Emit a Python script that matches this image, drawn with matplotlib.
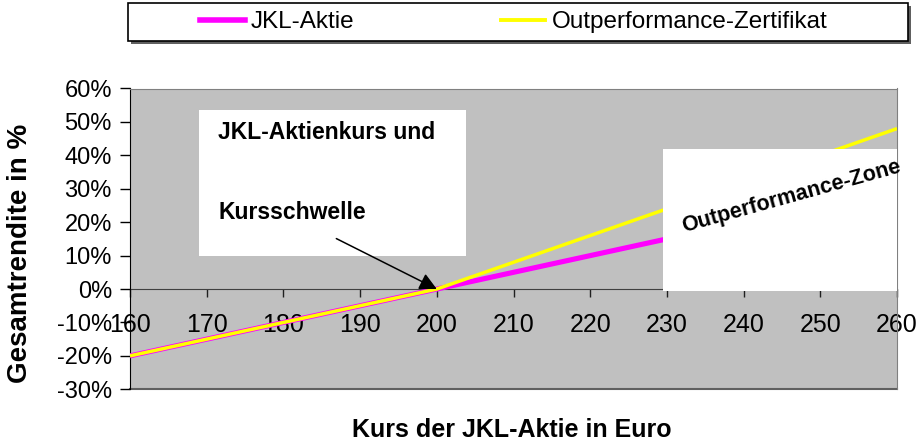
import matplotlib
matplotlib.use("Agg")
import matplotlib.pyplot as plt
from matplotlib.patches import Rectangle
from matplotlib.lines import Line2D

# Daten
kurs = [160, 170, 180, 190, 200, 210, 220, 230, 240, 250, 260]
aktie = [-20, -15, -10, -5, 0, 5, 10, 15, 20, 25, 30]
zertifikat = [-20, -15, -10, -5, 0, 8, 16, 24, 32, 40, 48]
y_ticks = [-30, -20, -10, 0, 10, 20, 30, 40, 50, 60]

plt.rcParams["font.family"] = ["Liberation Sans", "DejaVu Sans"]

fig = plt.figure(figsize=(9.17, 4.43), dpi=100)
ax = fig.add_axes([130 / 917, 1 - 389.3 / 443, 767 / 917, 300.8 / 443])
ax.set_facecolor("#c0c0c0")

# Achsen / Rahmen (Spine zuerst verschieben, sonst gehen die Tick-Einstellungen verloren)
ax.spines["bottom"].set_position(("data", 0))
ax.spines["bottom"].set_color("#404040")
ax.spines["bottom"].set_zorder(2)
ax.spines["left"].set_color("black")
ax.spines["top"].set_color("#808080")
ax.spines["right"].set_color("#808080")
ax.axhline(-30, color="#606060", linewidth=1.5, clip_on=False, zorder=1)

ax.plot(kurs, aktie, color="#ff00ff", linewidth=3.7, solid_capstyle="butt", zorder=3)
ax.plot(kurs, zertifikat, color="#ffff00", linewidth=2.5, solid_capstyle="butt", zorder=4)

ax.set_xlim(160, 260)
ax.set_ylim(-30, 60)
ax.set_yticks(y_ticks)
ax.set_yticklabels([f"{v}%" for v in y_ticks], fontsize=17)
ax.set_xticks(kurs)
ax.set_xticklabels([str(k) for k in kurs], fontsize=18)
ax.tick_params(axis="y", direction="out", length=7, width=1, pad=6)
ax.tick_params(axis="x", direction="out", length=6, width=1, pad=11, color="#202020")

# Textfelder
ax.add_patch(Rectangle((169, 10), 34.8, 43.7, facecolor="white", edgecolor="none", zorder=5))
ax.text(171.5, 46.8, "JKL-Aktienkurs und", fontsize=16.5, fontweight="bold", va="center", zorder=6)
ax.text(171.5, 22.8, "Kursschwelle", fontsize=16.5, fontweight="bold", va="center", zorder=6)

ax.add_patch(Rectangle((229.5, -0.5), 30.5, 42.5, facecolor="white", edgecolor="none",
                       zorder=5, clip_on=False))
ax.text(246.2, 27.6, "Outperformance-Zone", fontsize=15.5, fontweight="bold",
        rotation=15.5, ha="center", va="center", zorder=6)

ax.annotate("", xy=(200, 0), xytext=(186.9, 15.1),
            arrowprops=dict(arrowstyle="-|>", color="black", lw=1.1,
                            mutation_scale=26, shrinkA=0, shrinkB=0), zorder=7)

fig.text(20 / 917, 1 - 253 / 443, "Gesamtrendite in %", rotation=90, fontsize=20,
         fontweight="bold", ha="center", va="center")
fig.text(512 / 917, 1 - 430 / 443, "Kurs der JKL-Aktie in Euro", fontsize=18,
         fontweight="bold", ha="center", va="center")

# Legende
fig.patches.append(Rectangle((131 / 917, 1 - 44 / 443), 780 / 917, 38 / 443,
                             transform=fig.transFigure, facecolor="#606060",
                             edgecolor="none"))
fig.patches.append(Rectangle((128 / 917, 1 - 41 / 443), 780 / 917, 38 / 443,
                             transform=fig.transFigure, facecolor="white",
                             edgecolor="black", linewidth=1.2))
handles = [Line2D([], [], color="#ff00ff", linewidth=4),
           Line2D([], [], color="#ffff00", linewidth=2.8)]
fig.legend(handles, ["JKL-Aktie", "Outperformance-Zertifikat"], loc="center left",
           bbox_to_anchor=(200 / 917, 1 - 22 / 443), ncol=2, frameon=False,
           fontsize=17.5, handlelength=1.85, handletextpad=0.25, columnspacing=6.0,
           borderpad=0, borderaxespad=0)

fig.savefig("out.png", dpi=100)
